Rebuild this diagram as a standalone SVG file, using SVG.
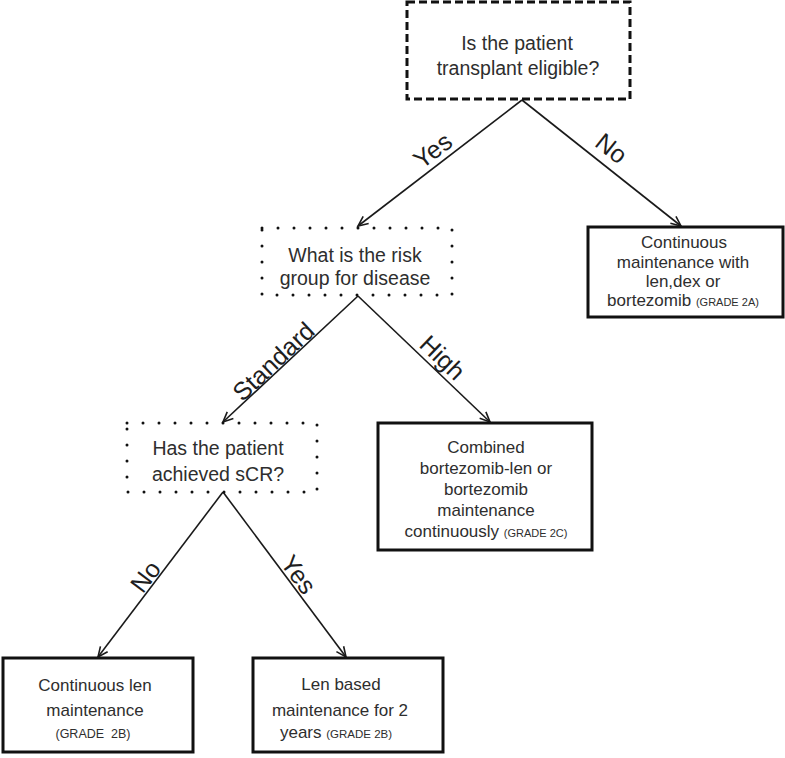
<svg xmlns="http://www.w3.org/2000/svg" width="785" height="758" viewBox="0 0 785 758">
<style>
text{font-family:"Liberation Sans",Arial,sans-serif;fill:#2e2e2e;text-anchor:middle}
.q{font-size:19.5px}
.r{font-size:17px}
.g{font-size:11px}
.lbl{font-size:25px;fill:#1e1e1e}
.solid{fill:#fff;stroke:#111;stroke-width:3}
.dash{fill:#fff;stroke:#111;stroke-width:3;stroke-dasharray:8 4}
.dot{fill:#fff;stroke:#111;stroke-width:3;stroke-dasharray:0 16;stroke-linecap:round}
.conn line{stroke:#1a1a1a;stroke-width:1.6;marker-end:url(#arr)}
</style>
<defs>
<marker id="arr" markerUnits="userSpaceOnUse" markerWidth="14" markerHeight="14" refX="11" refY="6" orient="auto">
<path d="M1,1.5 L11,6 L1,10.5" fill="none" stroke="#1a1a1a" stroke-width="1.6"/>
</marker>
</defs>
<rect width="785" height="758" fill="#fff"/>
<g class="conn" id="connectors">
<line x1="522" y1="100" x2="358" y2="226"/>
<line x1="522" y1="100" x2="681" y2="226"/>
<line x1="358" y1="296" x2="223" y2="422"/>
<line x1="358" y1="296" x2="490" y2="422"/>
<line x1="223" y1="492" x2="98" y2="657"/>
<line x1="223" y1="492" x2="346" y2="657"/>
<text class="lbl" transform="translate(433,151) rotate(-37.5)" y="8">Yes</text>
<text class="lbl" transform="translate(611,149) rotate(38.3)" y="8">No</text>
<text class="lbl" transform="translate(274,362) rotate(-43.2)" y="8">Standard</text>
<text class="lbl" transform="translate(442,358) rotate(43.9)" y="8">High</text>
<text class="lbl" transform="translate(146,577) rotate(-53)" y="8">No</text>
<text class="lbl" transform="translate(298,575) rotate(53.5)" y="8">Yes</text>
</g>
<g id="n1">
<rect class="dash" x="407" y="2" width="223" height="97"/>
<text class="q" x="517" y="50">Is the patient</text>
<text class="q" x="518" y="75">transplant eligible?</text>
</g>
<g id="n2">
<rect class="dot" x="262" y="228" width="190" height="67"/>
<text class="q" x="355" y="262">What is the risk</text>
<text class="q" x="355" y="285">group for disease</text>
</g>
<g id="n3">
<rect class="solid" x="588" y="227" width="195" height="90"/>
<text class="r" x="684" y="248">Continuous</text>
<text class="r" x="683" y="268">maintenance with</text>
<text class="r" x="683" y="287">len,dex or</text>
<text class="r" x="683" y="306">bortezomib <tspan class="g">(GRADE 2A)</tspan></text>
</g>
<g id="n4">
<rect class="dot" x="127" y="423" width="190" height="69"/>
<text class="q" x="218" y="455">Has the patient</text>
<text class="q" x="218" y="481">achieved sCR?</text>
</g>
<g id="n5">
<rect class="solid" x="378" y="423" width="214" height="127"/>
<text class="r" x="486" y="453">Combined</text>
<text class="r" x="486" y="474">bortezomib-len or</text>
<text class="r" x="486" y="495">bortezomib</text>
<text class="r" x="486" y="516">maintenance</text>
<text class="r" x="486" y="537">continuously <tspan class="g">(GRADE 2C)</tspan></text>
</g>
<g id="n6">
<rect class="solid" x="3" y="658" width="190" height="94"/>
<text class="r" x="95" y="691">Continuous len</text>
<text class="r" x="95" y="716">maintenance</text>
<text x="93" y="738" style="font-size:12.5px">(GRADE&#160; 2B)</text>
</g>
<g id="n7">
<rect class="solid" x="253" y="658" width="190" height="94"/>
<text class="r" x="341" y="690">Len based</text>
<text class="r" x="340" y="716">maintenance for 2</text>
<text class="r" x="336" y="738">years <tspan style="font-size:11.5px">(GRADE 2B)</tspan></text>
</g>
</svg>
